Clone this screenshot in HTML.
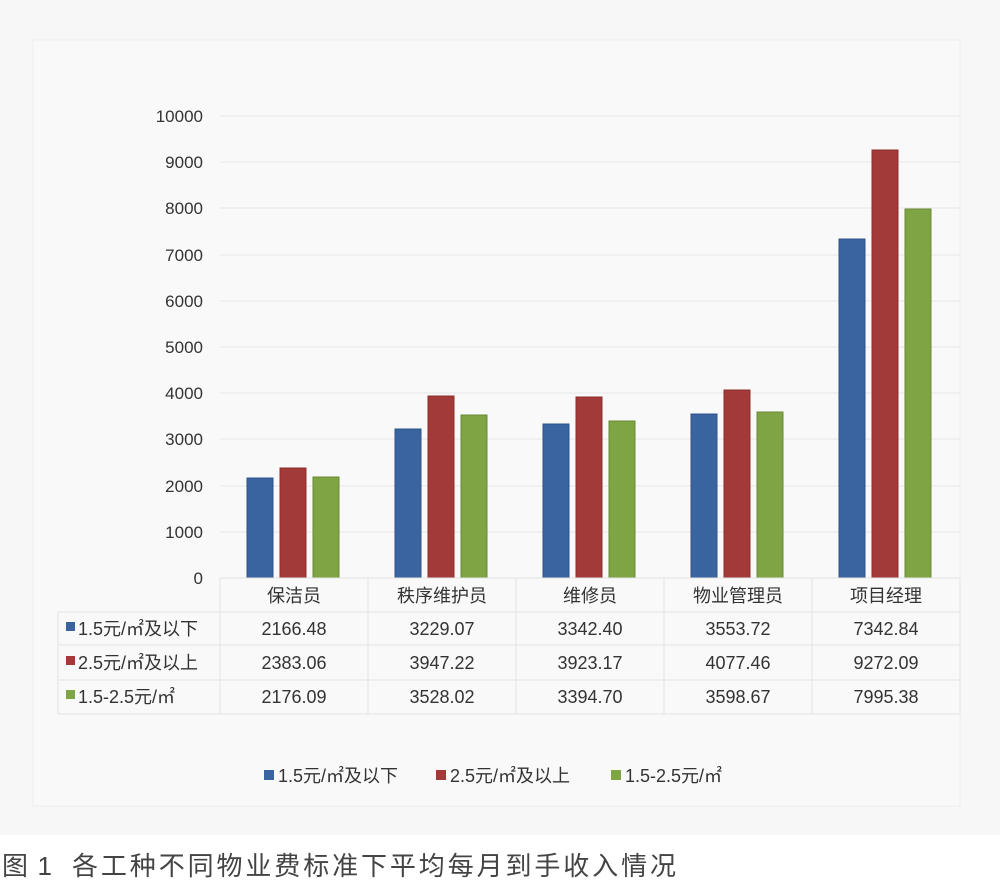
<!DOCTYPE html>
<html><head><meta charset="utf-8"><style>
body{margin:0;background:#fff;}
svg{display:block;font-family:"Liberation Sans","Noto Sans CJK SC",sans-serif;}
</style></head><body>
<svg width="1000" height="882" xmlns="http://www.w3.org/2000/svg">
<rect x="0" y="0" width="1000" height="882" fill="#ffffff"/>
<rect x="0" y="0" width="1000" height="835" fill="#f7f7f7"/>
<rect x="33" y="40" width="927" height="766" fill="#f9f9f9" stroke="#eeeeee"/>
<g stroke="#e8e8e8" stroke-width="1">
<line x1="220" x2="960" y1="116" y2="116"/><line x1="220" x2="960" y1="162" y2="162"/>
<line x1="220" x2="960" y1="208" y2="208"/><line x1="220" x2="960" y1="255" y2="255"/>
<line x1="220" x2="960" y1="301" y2="301"/><line x1="220" x2="960" y1="347" y2="347"/>
<line x1="220" x2="960" y1="393" y2="393"/><line x1="220" x2="960" y1="439" y2="439"/>
<line x1="220" x2="960" y1="486" y2="486"/><line x1="220" x2="960" y1="532" y2="532"/>
</g>
<g font-size="17" fill="#333" text-anchor="end">
<text x="203" y="122">10000</text><text x="203" y="168">9000</text><text x="203" y="214">8000</text>
<text x="203" y="261">7000</text><text x="203" y="307">6000</text><text x="203" y="353">5000</text>
<text x="203" y="399">4000</text><text x="203" y="445">3000</text><text x="203" y="492">2000</text>
<text x="203" y="538">1000</text><text x="203" y="584">0</text>
</g>
<g stroke-width="1">
<g fill="#3a64a0" stroke="#2e5286">
<rect x="247" y="478" width="26" height="100"/><rect x="395" y="429" width="26" height="149"/>
<rect x="543" y="424" width="26" height="154"/><rect x="691" y="414" width="26" height="164"/>
<rect x="839" y="239" width="26" height="339"/></g>
<g fill="#a33a3a" stroke="#8a2e2e">
<rect x="280" y="468" width="26" height="110"/><rect x="428" y="396" width="26" height="182"/>
<rect x="576" y="397" width="26" height="181"/><rect x="724" y="390" width="26" height="188"/>
<rect x="872" y="150" width="26" height="428"/></g>
<g fill="#7fa444" stroke="#6a8a38">
<rect x="313" y="477" width="26" height="101"/><rect x="461" y="415" width="26" height="163"/>
<rect x="609" y="421" width="26" height="157"/><rect x="757" y="412" width="26" height="166"/>
<rect x="905" y="209" width="26" height="369"/></g>
</g>
<g stroke="#e2e2e2" stroke-width="1" fill="none">
<line x1="220" x2="960" y1="578" y2="578"/>
<line x1="58" x2="960" y1="612" y2="612"/><line x1="58" x2="960" y1="645" y2="645"/>
<line x1="58" x2="960" y1="680" y2="680"/><line x1="58" x2="960" y1="714" y2="714"/>
<line x1="58" x2="58" y1="612" y2="714"/>
<line x1="220" x2="220" y1="578" y2="714"/><line x1="368" x2="368" y1="578" y2="714"/>
<line x1="516" x2="516" y1="578" y2="714"/><line x1="664" x2="664" y1="578" y2="714"/>
<line x1="812" x2="812" y1="578" y2="714"/><line x1="960" x2="960" y1="578" y2="714"/>
</g>
<g font-size="18" fill="#333" text-anchor="middle">
<text x="294" y="602">保洁员</text><text x="442" y="602">秩序维护员</text><text x="590" y="602">维修员</text>
<text x="738" y="602">物业管理员</text><text x="886" y="602">项目经理</text>
<text x="294" y="635">2166.48</text><text x="442" y="635">3229.07</text><text x="590" y="635">3342.40</text><text x="738" y="635">3553.72</text><text x="886" y="635">7342.84</text>
<text x="294" y="669">2383.06</text><text x="442" y="669">3947.22</text><text x="590" y="669">3923.17</text><text x="738" y="669">4077.46</text><text x="886" y="669">9272.09</text>
<text x="294" y="703">2176.09</text><text x="442" y="703">3528.02</text><text x="590" y="703">3394.70</text><text x="738" y="703">3598.67</text><text x="886" y="703">7995.38</text>
</g>
<g font-size="18" fill="#333">
<rect x="66" y="622" width="9" height="9" fill="#3a64a0"/><text x="78" y="635">1.5元/㎡及以下</text>
<rect x="66" y="656" width="9" height="9" fill="#a33a3a"/><text x="78" y="669">2.5元/㎡及以上</text>
<rect x="66" y="690" width="9" height="9" fill="#7fa444"/><text x="78" y="703">1.5-2.5元/㎡</text>
<rect x="264" y="770" width="10" height="10" fill="#3a64a0"/><text x="278" y="782">1.5元/㎡及以下</text>
<rect x="436" y="770" width="10" height="10" fill="#a33a3a"/><text x="450" y="782">2.5元/㎡及以上</text>
<rect x="611" y="770" width="10" height="10" fill="#7fa444"/><text x="625" y="782">1.5-2.5元/㎡</text>
</g>
<g font-size="26" fill="#444">
<text x="2" y="875" textLength="50" lengthAdjust="spacing">图 1</text>
<text x="72" y="875" textLength="604" lengthAdjust="spacing">各工种不同物业费标准下平均每月到手收入情况</text>
</g>
</svg>
</body></html>
